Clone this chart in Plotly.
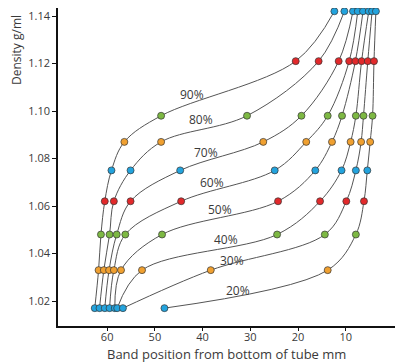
import plotly.graph_objects as go

# Density marker levels (g/ml) and their bead colours
densities = [1.017, 1.033, 1.048, 1.062, 1.075, 1.087, 1.098, 1.121, 1.142]
level_colors = ["#23A3DD", "#F0A030", "#7DB843", "#E2292B", "#23A3DD",
                "#F0A030", "#7DB843", "#E2292B", "#23A3DD"]

# Starting Percoll concentrations
series_names = ["90%", "80%", "70%", "60%", "50%", "40%", "30%", "20%"]

# Band positions (mm from bottom of tube) for each density level
pos_90 = [62.6, 61.8, 61.3, 60.5, 59.1, 56.4, 48.7, 20.5, 12.4]
pos_80 = [61.6, 60.7, 59.5, 58.6, 55.1, 48.7, 30.7, 15.7, 10.3]
pos_70 = [60.5, 59.6, 58.0, 55.1, 44.7, 27.3, 19.3, 11.5, 8.5]
pos_60 = [59.5, 58.6, 56.2, 44.5, 24.9, 18.3, 13.8, 9.3, 7.5]
pos_50 = [58.4, 57.1, 48.5, 24.2, 16.4, 12.9, 10.8, 8.0, 6.4]
pos_40 = [57.9, 52.7, 24.4, 15.4, 10.9, 9.0, 7.9, 6.7, 5.2]
pos_30 = [56.7, 38.3, 14.4, 9.9, 7.9, 6.8, 6.3, 5.4, 4.5]
pos_20 = [48.0, 13.8, 7.9, 6.2, 5.5, 4.9, 4.4, 4.1, 3.7]

all_positions = [pos_90, pos_80, pos_70, pos_60, pos_50, pos_40, pos_30, pos_20]

x_ticks = [60, 50, 40, 30, 20, 10]
y_ticks = [1.02, 1.04, 1.06, 1.08, 1.10, 1.12, 1.14]

# label anchor points (x, y) for the curve labels
label_x = [42.2, 40.3, 39.2, 38.0, 36.3, 35.1, 33.9, 32.6]
label_y = [1.1071, 1.0966, 1.0826, 1.0699, 1.0586, 1.0460, 1.0372, 1.0246]

FONT = "Open Sans"
TXT = "#3a3a3a"

fig = go.Figure()

for name, pos in zip(series_names, all_positions):
    fig.add_trace(go.Scatter(
        x=pos, y=densities, mode="lines", name=name,
        line=dict(color="#555555", width=1, shape="spline", smoothing=1.0),
        hoverinfo="skip", showlegend=False))

for name, pos in zip(series_names, all_positions):
    fig.add_trace(go.Scatter(
        x=pos, y=densities, mode="markers", name=name,
        marker=dict(size=7, color=level_colors,
                    line=dict(color="#333333", width=0.7)),
        showlegend=False))

for name, lx, ly in zip(series_names, label_x, label_y):
    fig.add_annotation(x=lx, y=ly, text=name, showarrow=False,
                       font=dict(family=FONT, size=12, color=TXT))

fig.add_annotation(xref="paper", yref="paper", x=-0.125, y=0.984,
                   text="Density g/ml", textangle=-90, showarrow=False,
                   xanchor="center", yanchor="top",
                   font=dict(family=FONT, size=12, color=TXT))

fig.add_annotation(xref="paper", yref="paper", x=0.5, y=-0.088,
                   text="Band position from bottom of tube mm", showarrow=False,
                   xanchor="center", yanchor="middle",
                   font=dict(family=FONT, size=13, color=TXT))

fig.update_layout(
    width=405, height=364,
    margin=dict(l=50, r=18, t=0, b=46),
    paper_bgcolor="white", plot_bgcolor="white",
    font=dict(family=FONT, size=11, color=TXT),
    xaxis=dict(range=[70.3, -0.3], tickvals=x_ticks, showgrid=False,
               zeroline=False, showline=True, linecolor="#111111", linewidth=1.5,
               ticks="outside", ticklen=3, tickcolor="#111111", tickwidth=1,
               automargin=False, ticklabelstandoff=-3,
               tickfont=dict(family=FONT, size=11, color=TXT)),
    yaxis=dict(range=[1.009474, 1.14337], tickvals=y_ticks, tickformat=".2f",
               showgrid=False, zeroline=False, showline=True,
               linecolor="#111111", linewidth=1.5, automargin=False,
               ticklabeloverflow="allow",
               ticks="outside", ticklen=4, tickcolor="#111111", tickwidth=1,
               tickfont=dict(family=FONT, size=11, color=TXT)),
)

fig.write_html("out.html")
